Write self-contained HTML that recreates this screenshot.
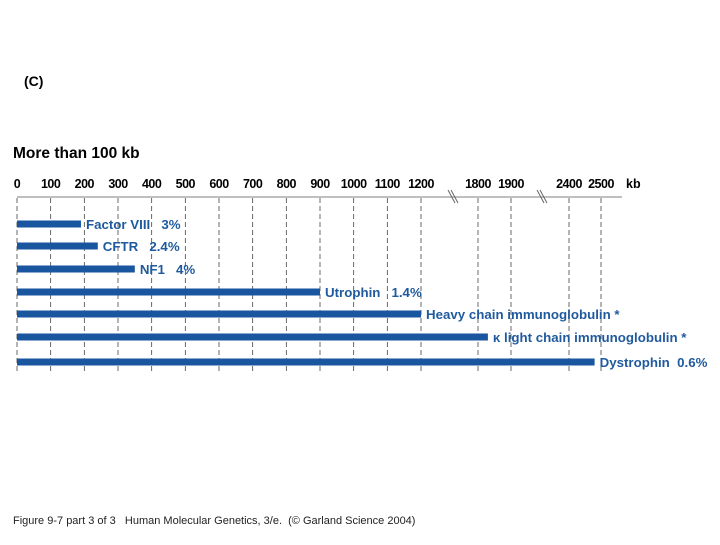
<!DOCTYPE html>
<html><head><meta charset="utf-8"><style>
body{margin:0;background:#fff;width:720px;height:540px;overflow:hidden;font-family:"Liberation Sans",sans-serif}
svg text{font-family:"Liberation Sans",sans-serif}
</style></head><body>
<svg id="c" width="720" height="540">
<text x="24" y="86" font-size="14" font-weight="bold">(C)</text>
<text x="13" y="158" font-size="15.5" font-weight="bold">More than 100 kb</text>
<text x="13" y="524" font-size="11" fill="#222" style="white-space:pre">Figure 9-7 part 3 of 3   Human Molecular Genetics, 3/e.  (© Garland Science 2004)</text>
<g id="g"></g>
</svg>
<script>
const ticks=[0,100,200,300,400,500,600,700,800,900,1000,1100,1200,1800,1900,2400,2500];
const genes=["Factor VIII   3%","CFTR   2.4%","NF1   4%","Utrophin   1.4%","Heavy chain immunoglobulin *","κ light chain immunoglobulin *","Dystrophin  0.6%"];
const sizes=[190,240,350,900,1200,1830,2480];
const NS="http://www.w3.org/2000/svg";
function x(v){
  if(v<=1200) return 17+v*(421-17)/1200;
  if(v<=1900) return 478+(v-1800)*0.33;
  return 569+(v-2400)*0.32;
}
const g=document.getElementById('g');
function el(t,a){const e=document.createElementNS(NS,t);for(const k in a)e.setAttribute(k,a[k]);g.appendChild(e);return e;}
const ax=el('line',{x1:17,y1:197,x2:622,y2:197,stroke:'#aaa','stroke-width':1.5});


[452,541].forEach(bx=>{
  const b=el('path',{d:`M${bx-4} 190 L${bx+3} 203 M${bx-1} 190 L${bx+6} 203`,stroke:'#666','stroke-width':1,fill:'none'});
  
  
});
ticks.forEach(t=>{
  const l=el('line',{x1:x(t),y1:198,x2:x(t),y2:372,stroke:'#444','stroke-width':0.8,'stroke-dasharray':'5,3'});
  
  
  const tx=el('text',{x:x(t),y:188,'font-size':12.5,'font-weight':'bold','text-anchor':'middle','letter-spacing':'-0.5'});
  tx.textContent=t;
  
  
});
const kb=el('text',{x:626,y:188,'font-size':12.5,'font-weight':'bold'});kb.textContent='kb';


const ys=[224,246,269,292,314,337,362];
sizes.forEach((s,i)=>{
  const r=el('rect',{x:17,y:ys[i]-3.5,width:x(s)-17,height:7,fill:'#1a56a0'});
  
  
  const t=el('text',{x:x(s)+5,y:ys[i]+5,'font-size':13.3,'font-weight':'bold',fill:'#1f5a9e'});
  t.style.whiteSpace='pre';
  t.textContent=genes[i];
  
  
});
</script>
</body></html>
